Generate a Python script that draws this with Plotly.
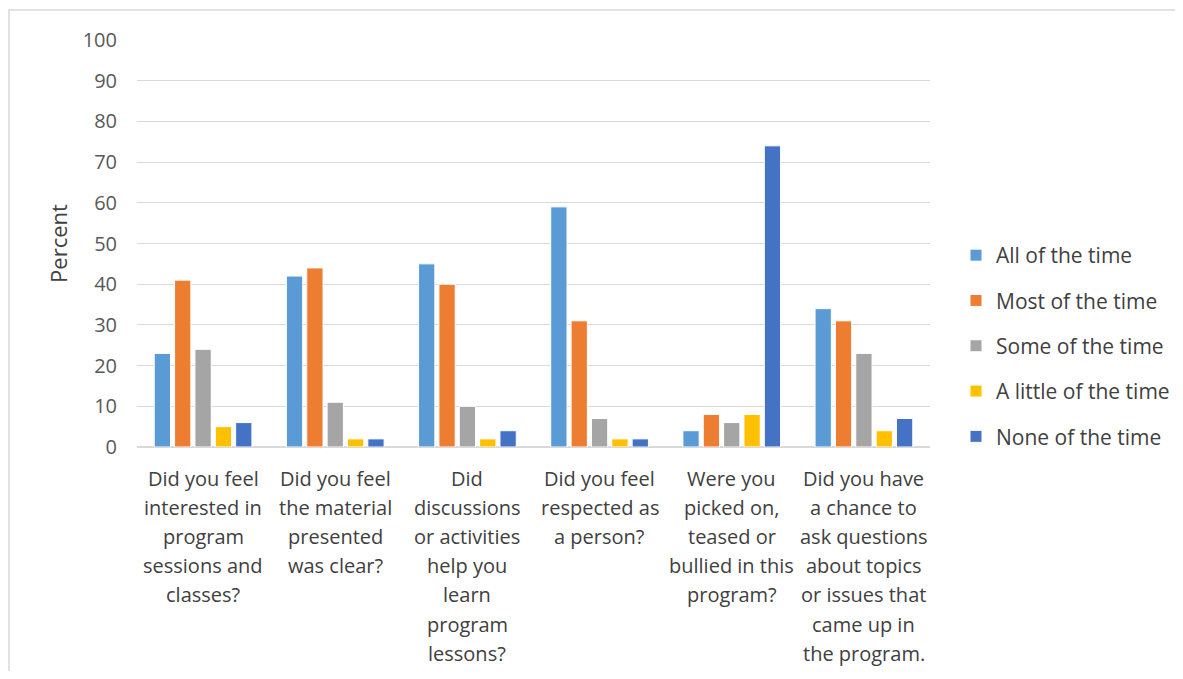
import plotly.graph_objects as go

categories = [
    "Did you feel<br>interested in<br>program<br>sessions and<br>classes?",
    "Did you feel<br>the material<br>presented<br>was clear?",
    "Did<br>discussions<br>or activities<br>help you<br>learn<br>program<br>lessons?",
    "Did you feel<br>respected as<br>a person?",
    "Were you<br>picked on,<br>teased or<br>bullied in this<br>program?",
    "Did you have<br>a chance to<br>ask questions<br>about topics<br>or issues that<br>came up in<br>the program.",
]
series_names = ["All of the time", "Most of the time", "Some of the time",
                "A little of the time", "None of the time"]
all_time = [23, 42, 45, 59, 4, 34]
most_time = [41, 44, 40, 31, 8, 31]
some_time = [24, 11, 10, 7, 6, 23]
little_time = [5, 2, 2, 2, 8, 4]
none_time = [6, 2, 4, 2, 74, 7]
series_values = [all_time, most_time, some_time, little_time, none_time]
colors = ["#5B9BD5", "#ED7D31", "#A5A5A5", "#FFC000", "#4472C4"]

FONT = "Open Sans, Lato, sans-serif"

fig = go.Figure()
for i, (name, vals, c) in enumerate(zip(series_names, series_values, colors)):
    fig.add_trace(go.Bar(
        x=categories, y=vals, name=name, legendgroup=f"g{i}",
        marker=dict(color=c, line=dict(color="white", width=1)),
    ))

# page has an 8px body margin; keep figure inside the window
OFF = 8
W, H = 1167, 663
PL, PR, PT, PB = 137, 930, 40, 447  # plot area in page pixels
l, r, t, b = PL - OFF, OFF + W - PR, PT - OFF, OFF + H - PB
pw, ph = PR - PL, PB - PT

annotations = []
for cat in categories:
    for k, line in enumerate(cat.split("<br>")):
        annotations.append(dict(
            x=cat, y=0, xref="x", yref="paper", text=line, showarrow=False,
            yanchor="middle", xanchor="center", yshift=-(31 + 29.2 * k),
            font=dict(family=FONT, size=20, color="#404040"),
        ))

fig.update_layout(
    width=W, height=H,
    margin=dict(l=l, r=r, t=t, b=b, autoexpand=False),
    paper_bgcolor="white", plot_bgcolor="white",
    font=dict(family=FONT, size=20, color="#404040"),
    barmode="group", bargap=0.23, bargroupgap=0.2,
    showlegend=True,
    legend=dict(x=(956 - PL) / pw, y=(PB - 346) / ph, xanchor="left", yanchor="middle",
                font=dict(size=21, color="#404040", family=FONT), traceorder="grouped",
                tracegroupgap=15, itemwidth=30),
    xaxis=dict(showline=False, ticks="", showticklabels=False, showgrid=False),
    yaxis=dict(range=[0, 100], dtick=10, showgrid=True, gridcolor="#D9D9D9",
               gridwidth=1.3, zeroline=True, zerolinecolor="#D9D9D9", zerolinewidth=1.5,
               tickfont=dict(size=20, color="#595959", family=FONT), ticks="",
               ticklabelstandoff=19,
               title=dict(text="Percent", font=dict(size=22, color="#404040", family=FONT),
                          standoff=8)),
    annotations=annotations,
    shapes=[dict(type="rect", xref="paper", yref="paper",
                 x0=(OFF + 1 - PL) / pw, x1=(OFF + W + 20 - PL) / pw,
                 y0=-(OFF + H + 20 - PB) / ph, y1=1 + (PT - 10) / ph,
                 line=dict(color="#D9D9D9", width=1.5), layer="below")],
)

fig.write_html("out.html")
